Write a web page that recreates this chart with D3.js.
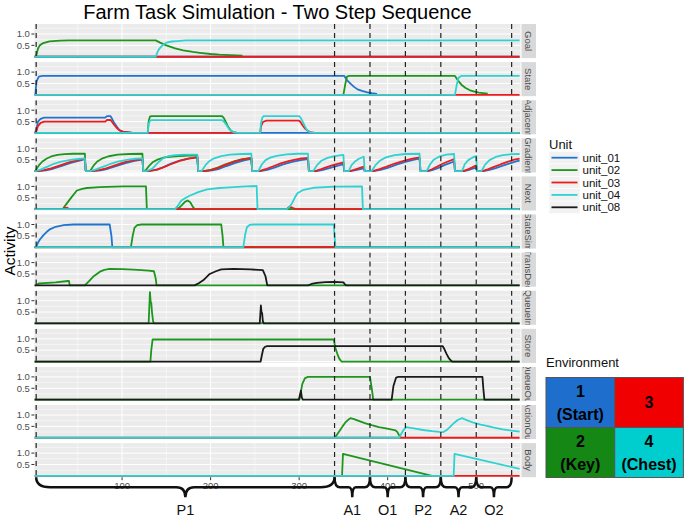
<!DOCTYPE html>
<html>
<head>
<meta charset="UTF-8">
<script src="https://d3js.org/d3.v7.min.js"></script>
<style>
  body { margin: 0; background: #fff; }
  svg text { font-family: "Liberation Sans", Arial, sans-serif; }
</style>
</head>
<body>
<svg id="chart" width="685" height="519"></svg>
<script>
// ---- data ----
const units = ["unit_01", "unit_02", "unit_03", "unit_04", "unit_08"];
const unitColors = ["#1f74cf", "#1c961c", "#ee1b1b", "#2ed2d2", "#1a1a1a"];
const panelNames = ["Goal", "State", "Adjacent", "Gradient", "Next", "StateSim",
                    "TransDec", "QueueIn", "Store", "QueueOut", "ActionOut", "Body"];
const eventTimes = [3, 340, 380, 420, 460, 500, 540];
const phaseLabels = ["P1", "A1", "O1", "P2", "A2", "O2"];
const xTicks = [100, 200, 300, 400, 500];
const xMinor = [50, 150, 250, 350, 450, 550];
const yTicks = [0.5, 1.0];
const yMinor = [0.25, 0.75, 1.25];
const envCells = [["1", "(Start)"], ["3"], ["2", "(Key)"], ["4", "(Chest)"]];
const envColors = ["#1e6ecd", "#f00000", "#148714", "#00cdcd"];

// each series: [time, activity] points
const goal = {
  unit_01: [[1,0],[549,0]],
  unit_02: [[1,0],[3,0.02],[5,0.35],[7,0.5],[11,0.6],[18,0.68],[30,0.71],[40,0.72],[138,0.72],[143,0.62],[150,0.5],
            [160,0.37],[169,0.28],[180,0.21],[188,0.17],[200,0.12],[210,0.09],[222,0.07],[236,0.05]],
  unit_03: [[1,0],[549,0]],
  unit_04: [[1,0],[138,0],[140,0.2],[142,0.35],[146,0.52],[150,0.62],[156,0.67],[162,0.69],[172,0.72],[549,0.72]]
};
const state = {
  unit_01: [[1,0],[2,0.05],[3.5,0.6],[6,0.8],[10,0.83],[351,0.83],[354,0.65],[358,0.49],[362,0.35],[366,0.24],
            [371,0.17],[376,0.12],[382,0.07],[388,0.04]],
  unit_02: [[350,0],[352,0.45],[354,0.8],[356,0.83],[476,0.83],[480,0.6],[484,0.42],[488,0.3],[493,0.2],[498,0.14],
            [503,0.1],[513,0.05]],
  unit_03: [[1,0],[549,0]],
  unit_04: [[1,0],[476,0],[478,0.45],[480,0.75],[483,0.83],[549,0.83]]
};
const adjacent = {
  unit_01: [[1,0],[3,0.1],[5,0.5],[8,0.62],[12,0.67],[81,0.67],[83,0.74],[87,0.74],[89,0.6],[91,0.45],[94,0.28],
            [97,0.13],[101,0.06],[107,0.03],[112,0],[549,0]],
  unit_02: [[1,0],[129,0],[130,0.5],[131.5,0.72],[133,0.74],[213,0.74],[215,0.65],[217,0.5],[219,0.33],[221,0.2],
            [223,0.1],[226,0.03],[230,0]],
  unit_03: [[1,0],[3,0.05],[5,0.3],[8,0.44],[12,0.5],[81,0.5],[83,0.57],[87,0.57],[89,0.47],[91,0.36],[94,0.22],
            [97,0.11],[101,0.05],[107,0.02],[112,0],[256,0],[257,0.3],[259,0.48],[263,0.54],[300,0.54],[302,0.45],
            [304,0.33],[307,0.18],[310,0.08],[314,0.02],[318,0],[549,0]],
  unit_04: [[1,0],[129,0],[130,0.4],[131.5,0.53],[133,0.56],[213,0.56],[215,0.5],[217,0.4],[219,0.28],[221,0.17],
            [223,0.09],[226,0.03],[230,0],[256,0],[257,0.45],[258.5,0.68],[260,0.74],[300,0.74],[302,0.65],
            [304,0.5],[306,0.33],[308,0.18],[310,0.08],[313,0.02],[316,0],[549,0]]
};
const gradient = {
  unit_01: [[1,0],[5,0],[14,0.03],[22,0.1],[32,0.23],[42,0.36],[52,0.46],[58,0.52],[59,0],
            [66,0],[76,0.03],[84,0.1],[94,0.23],[104,0.35],[114,0.45],[123,0.5],[124,0],
            [130,0],[140,0.06],[148,0.2],[156,0.34],[166,0.47],[176,0.56],[185,0.6],[186,0],
            [194,0],[202,0.03],[210,0.1],[218,0.22],[228,0.36],[238,0.47],[246,0.53],[247,0],
            [256,0],[264,0.05],[272,0.15],[282,0.29],[292,0.4],[302,0.48],[310,0.52],[311,0],
            [320,0],[327,0.05],[334,0.13],[342,0.22],[350,0.3],[351,0],
            [358,0],[364,0.04],[369,0.08],[373,0.12],[374,0],
            [384,0],[392,0.05],[400,0.14],[410,0.28],[420,0.4],[430,0.5],[436,0.55],[437,0],
            [446,0],[452,0.06],[458,0.15],[464,0.26],[470,0.35],[475,0.42],[476,0],
            [486,0],[491,0.04],[496,0.1],[500,0.15],[501,0],
            [508,0],[515,0.05],[522,0.13],[530,0.24],[538,0.34],[545,0.42],[549,0.46]],
  unit_02: [[1,0],[2,0],[6,0.25],[10,0.42],[15,0.55],[20,0.64],[27,0.71],[35,0.74],[45,0.76],[58,0.77],[59,0],
            [64,0],[68,0.25],[72,0.42],[78,0.56],[85,0.65],[95,0.72],[108,0.75],[123,0.76],[124,0],
            [126,0],[130,0.2],[135,0.4],[140,0.5],[148,0.6],[160,0.65],[175,0.68],[185,0.68],[186,0],
            [192,0],[200,0.05],[208,0.15],[216,0.28],[226,0.42],[236,0.52],[246,0.57],[247,0]],
  unit_03: [[1,0],[4,0],[12,0.04],[20,0.12],[30,0.25],[40,0.38],[50,0.48],[58,0.54],[59,0],
            [65,0],[74,0.04],[82,0.12],[92,0.25],[102,0.38],[112,0.47],[123,0.53],[124,0],
            [129,0],[138,0.05],[146,0.15],[155,0.3],[165,0.45],[175,0.55],[185,0.6],[186,0],
            [192,0],[200,0.04],[208,0.13],[216,0.26],[226,0.4],[236,0.51],[246,0.58],[247,0],
            [255,0],[262,0.08],[270,0.2],[280,0.35],[290,0.46],[300,0.54],[310,0.58],[311,0],
            [318,0],[325,0.08],[332,0.18],[340,0.28],[350,0.38],[351,0],
            [357,0],[362,0.05],[367,0.12],[373,0.2],[374,0],
            [383,0],[390,0.07],[398,0.18],[408,0.33],[418,0.45],[428,0.55],[436,0.6],[437,0],
            [445,0],[450,0.08],[456,0.2],[462,0.32],[468,0.42],[475,0.52],[476,0],
            [485,0],[490,0.06],[495,0.15],[500,0.25],[501,0],
            [507,0],[513,0.07],[520,0.18],[528,0.3],[536,0.41],[543,0.5],[549,0.55]],
  unit_04: [[1,0],[2,0],[8,0.06],[15,0.18],[22,0.3],[30,0.4],[40,0.48],[50,0.53],[58,0.56],[59,0],
            [64,0],[70,0.06],[78,0.18],[86,0.3],[95,0.41],[105,0.49],[115,0.54],[123,0.56],[124,0],
            [128,0],[134,0.1],[140,0.35],[146,0.55],[152,0.65],[160,0.7],[170,0.72],[185,0.72],[186,0],
            [190,0],[194,0.25],[198,0.42],[204,0.56],[212,0.66],[222,0.72],[235,0.75],[246,0.76],[247,0],
            [254,0],[258,0.3],[262,0.48],[268,0.6],[276,0.68],[286,0.73],[298,0.76],[310,0.76],[311,0],
            [316,0],[320,0.25],[325,0.45],[332,0.58],[340,0.66],[350,0.71],[351,0],
            [356,0],[359,0.25],[363,0.42],[368,0.55],[373,0.63],[374,0],
            [382,0],[386,0.25],[391,0.45],[398,0.6],[408,0.7],[420,0.75],[436,0.76],[437,0],
            [444,0],[448,0.3],[452,0.5],[458,0.63],[466,0.72],[475,0.75],[476,0],
            [484,0],[487,0.3],[491,0.48],[496,0.6],[500,0.66],[501,0],
            [506,0],[510,0.28],[515,0.48],[522,0.62],[530,0.7],[540,0.74],[549,0.75]]
};
const next = {
  unit_01: [[1,0],[33,0],[35,0.04],[38,0.05],[40,0],[160,0],[162,0.04],[165,0.03],[167,0],[549,0]],
  unit_02: [[1,0],[33,0],[37,0.22],[43,0.53],[49,0.82],[55,0.89],[60,0.93],[75,0.97],[101,1.0],[127,1.0],[128,0],
            [163,0],[167,0.15],[171,0.32],[174,0.38],[177,0.3],[180,0.1],[182,0],[549,0]],
  unit_03: [[1,0],[33,0],[35,0.05],[38,0.06],[40,0],[286,0],[288,0.08],[290,0.1],[293,0.05],[296,0],[549,0]],
  unit_04: [[1,0],[160,0],[164,0.2],[167,0.38],[172,0.5],[177,0.6],[186,0.75],[196,0.87],[210,0.93],[226,0.97],
            [240,1.0],[252,1.02],[253,0],[286,0],[289,0.1],[292,0.26],[295,0.5],[298,0.7],[305,0.85],[316,0.94],
            [340,0.99],[371,1.0],[372,0],[549,0]]
};
const stateSim = {
  unit_01: [[1,0],[3,0],[5,0.2],[7,0.33],[11,0.52],[15,0.68],[19,0.8],[25,0.9],[34,0.97],[45,1.0],[86,1.0],[88,0.5],[89,0],[549,0]],
  unit_02: [[1,0],[110,0],[112,0.5],[114,0.85],[117,0.97],[122,1.0],[212,1.0],[213.5,0.5],[214.5,0],[549,0]],
  unit_03: [[1,0],[549,0]],
  unit_04: [[1,0],[237,0],[239,0.55],[241,0.88],[244,0.98],[248,1.0],[339,1.0],[340,0.5],[341,0],[549,0]]
};
const transDec = {
  unit_02: [[1,0],[3,0],[6,0.08],[12,0.1],[25,0.13],[39,0.19],[40,0.19],[41,0],
            [58,0],[63,0.2],[68,0.4],[75,0.6],[80,0.68],[86,0.72],[100,0.71],[113,0.69],[130,0.65],[136,0.62],[138,0.3],[139,0],[549,0]],
  unit_08: [[1,0],[182,0],[187,0.1],[192,0.23],[199,0.5],[206,0.62],[212,0.7],[226,0.72],[245,0.7],[259,0.67],[262,0.4],[264,0],
            [310,0],[314,0.06],[320,0.11],[330,0.14],[340,0.15],[350,0.13],[351,0.08],[353,0],[549,0]]
};
const queueIn = {
  unit_02: [[1,0],[130,0],[131.5,1.38],[132.3,0.95],[133,0.9],[133.8,0.5],[135,0.1],[136,0],[258,0],[259,0.08],[260,0],[549,0]],
  unit_08: [[1,0],[255.5,0],[256.8,0.79],[257.5,0.5],[258.2,0.45],[259,0.1],[260,0],[549,0]]
};
const store = {
  unit_02: [[1,0],[132,0],[133,0.5],[134.5,0.97],[339,0.97],[341,0.6],[343,0.35],[345,0.15],[347,0.04],[348,0],[549,0]],
  unit_08: [[1,0],[256.5,0],[258,0.3],[259.5,0.56],[261.5,0.65],[264,0.68],[462,0.68],[464,0.55],[466.5,0.34],[469,0.15],
            [472,0.02],[473,0],[549,0]]
};
const queueOut = {
  unit_02: [[1,0],[300.5,0],[302,0.35],[303.6,0.69],[306.6,0.95],[310,1.0],[380,1.0],[382,0.5],[383.7,0],[549,0]],
  unit_08: [[1,0],[299.5,0],[301,0.2],[302,0.4],[303,0.1],[304,0],[404.5,0],[406.5,0.6],[409.5,0.97],[412,1.0],[507,1.0],
            [508,0.5],[509.2,0],[549,0]]
};
const actionOut = {
  unit_02: [[340,0],[343,0.15],[346,0.32],[349,0.5],[352,0.66],[355,0.78],[358,0.86],[362,0.82],[368,0.73],[375,0.63],
            [382,0.55],[390,0.47],[398,0.41],[405,0.36],[409,0.32],[411,0.25],[413,0.1],[415,0]],
  unit_03: [[1,0],[549,0]],
  unit_04: [[1,0],[413,0],[415,0.15],[418,0.35],[421,0.47],[426,0.43],[433,0.39],[440,0.34],[450,0.29],[458,0.26],
            [463,0.25],[467,0.35],[471,0.5],[475,0.65],[479,0.78],[484,0.86],[490,0.76],[497,0.66],[505,0.58],
            [512,0.52],[520,0.44],[530,0.37],[540,0.31],[549,0.27]]
};
const body = {
  unit_02: [[348.5,0],[349.5,0.97],[450,0]],
  unit_03: [[1,0],[549,0]],
  unit_04: [[1,0],[474.5,0],[475.5,0.97],[549,0.31]]
};
const panelSeries = [goal, state, adjacent, gradient, next, stateSim, transDec, queueIn, store, queueOut, actionOut, body];

// ---- layout ----
const svg = d3.select("#chart");
const panelLeft = 34.4, panelRight = 520.5;
const panelTop = 24, panelH = 34.1, panelGap = 4;
const stripX = 521.5, stripW = 14.5;
const gray30 = "#4d4d4d";

const x = d3.scaleLinear().domain([1, 550]).range([panelLeft, panelRight]);
const color = d3.scaleOrdinal().domain(units).range(unitColors);

const defs = svg.append("defs");

// title
svg.append("text")
  .attr("x", (panelLeft + panelRight) / 2).attr("y", 18.5)
  .attr("text-anchor", "middle")
  .style("font-size", "20px").style("fill", "#000")
  .text("Farm Task Simulation - Two Step Sequence");

// y axis title
svg.append("text")
  .attr("transform", `translate(15, 251) rotate(-90)`)
  .attr("text-anchor", "middle")
  .style("font-size", "15.5px").style("fill", "#000")
  .text("Activity");

panelNames.forEach((name, i) => {
  const top = panelTop + i * (panelH + panelGap);
  const bottom = top + panelH;
  const y = d3.scaleLinear().domain([-0.06, 1.44]).range([bottom, top]);
  const g = svg.append("g").attr("class", "panel");

  g.append("rect")
    .attr("x", panelLeft).attr("y", top)
    .attr("width", panelRight - panelLeft).attr("height", panelH)
    .attr("fill", "#ebebeb");

  // grid
  g.selectAll(".ymin").data(yMinor).join("line")
    .attr("x1", panelLeft).attr("x2", panelRight)
    .attr("y1", d => y(d)).attr("y2", d => y(d))
    .attr("stroke", "#fff").attr("stroke-width", 0.5);
  g.selectAll(".xmin").data(xMinor.filter(d => x(d) < panelRight)).join("line")
    .attr("x1", d => x(d)).attr("x2", d => x(d))
    .attr("y1", top).attr("y2", bottom)
    .attr("stroke", "#fff").attr("stroke-width", 0.5);
  g.selectAll(".ymaj").data([0].concat(yTicks)).join("line")
    .attr("x1", panelLeft).attr("x2", panelRight)
    .attr("y1", d => y(d)).attr("y2", d => y(d))
    .attr("stroke", "#fff").attr("stroke-width", 1);
  g.selectAll(".xmaj").data(xTicks).join("line")
    .attr("x1", d => x(d)).attr("x2", d => x(d))
    .attr("y1", top).attr("y2", bottom)
    .attr("stroke", "#fff").attr("stroke-width", 1);

  // clip for lines
  const clipId = "clip" + i;
  defs.append("clipPath").attr("id", clipId)
    .append("rect")
    .attr("x", panelLeft).attr("y", top)
    .attr("width", panelRight - panelLeft).attr("height", panelH);

  const line = d3.line().x(d => x(d[0])).y(d => y(d[1]));
  const series = panelSeries[i];
  const lg = g.append("g").attr("clip-path", `url(#${clipId})`);
  units.forEach(u => {
    if (!series[u]) return;
    lg.append("path")
      .datum(series[u])
      .attr("d", line)
      .attr("fill", "none")
      .attr("stroke", color(u))
      .attr("stroke-width", 1.8)
      .attr("stroke-linejoin", "round");
  });

  // event markers
  lg.selectAll(".ev").data(eventTimes).join("line")
    .attr("x1", d => x(d)).attr("x2", d => x(d))
    .attr("y1", top).attr("y2", bottom)
    .attr("stroke", "#222").attr("stroke-width", 1.2)
    .attr("stroke-dasharray", "5,4");

  // y axis
  g.selectAll(".ytick").data(yTicks).join("line")
    .attr("x1", panelLeft - 3).attr("x2", panelLeft)
    .attr("y1", d => y(d)).attr("y2", d => y(d))
    .attr("stroke", "#333").attr("stroke-width", 1);
  g.selectAll(".ylab").data(yTicks).join("text")
    .attr("x", panelLeft - 4.5).attr("y", d => y(d))
    .attr("text-anchor", "end").attr("dy", "0.35em")
    .style("font-size", "9.5px").style("fill", gray30)
    .text(d => d3.format(".1f")(d));

  // strip
  const sClip = "sclip" + i;
  defs.append("clipPath").attr("id", sClip)
    .append("rect").attr("x", stripX).attr("y", top)
    .attr("width", stripW).attr("height", panelH);
  g.append("rect")
    .attr("x", stripX).attr("y", top)
    .attr("width", stripW).attr("height", panelH)
    .attr("fill", "#d9d9d9");
  g.append("g").attr("clip-path", `url(#${sClip})`)
    .append("text")
    .attr("transform", `translate(${stripX + stripW / 2}, ${top + panelH / 2}) rotate(90)`)
    .attr("text-anchor", "middle").attr("dy", "0.35em")
    .style("font-size", "9.5px").style("fill", gray30)
    .text(name);
});

// x axis
const axisY = panelTop + panelNames.length * (panelH + panelGap) - panelGap;
svg.selectAll(".xtick").data(xTicks).join("line")
  .attr("x1", d => x(d)).attr("x2", d => x(d))
  .attr("y1", axisY).attr("y2", axisY + 3)
  .attr("stroke", "#333");
svg.selectAll(".xlab").data(xTicks).join("text")
  .attr("x", d => x(d)).attr("y", axisY + 8.5)
  .attr("text-anchor", "middle").attr("dy", "0.35em")
  .style("font-size", "9.5px").style("fill", gray30)
  .text(d => d);

// braces under the phases
function bracePath(x0, x1, y0, y1, y2) {
  const w = x1 - x0, xm = (x0 + x1) / 2;
  const re = Math.min(14, w * 0.15), rm = Math.min(9, w * 0.1);
  return `M${x0},${y0} Q${x0},${y1} ${x0 + re},${y1} L${xm - rm},${y1} Q${xm},${y1} ${xm},${y2}` +
         ` Q${xm},${y1} ${xm + rm},${y1} L${x1 - re},${y1} Q${x1},${y1} ${x1},${y0}`;
}
const phases = phaseLabels.map((p, i) => ({ label: p, t0: eventTimes[i], t1: eventTimes[i + 1] }));
svg.selectAll(".brace").data(phases).join("path")
  .attr("d", d => bracePath(x(d.t0), x(d.t1), axisY, axisY + 10, axisY + 20))
  .attr("fill", "none").attr("stroke", "#111").attr("stroke-width", 2.5);
svg.selectAll(".phase").data(phases).join("text")
  .attr("x", d => (x(d.t0) + x(d.t1)) / 2).attr("y", axisY + 38)
  .attr("text-anchor", "middle")
  .style("font-size", "14.5px").style("fill", "#111")
  .text(d => d.label);

// unit legend
const leg = svg.append("g");
leg.append("text").attr("x", 549).attr("y", 148.5)
  .style("font-size", "13px").style("fill", "#111").text("Unit");
const rowH = 12.4;
units.forEach((u, i) => {
  const ry = 151.5 + i * rowH;
  leg.append("rect").attr("x", 549).attr("y", ry)
    .attr("width", 31).attr("height", rowH)
    .attr("fill", "#f2f2f2").attr("stroke", "#fff").attr("stroke-width", 0.6);
  leg.append("line").attr("x1", 551.5).attr("x2", 577.5)
    .attr("y1", ry + rowH / 2).attr("y2", ry + rowH / 2)
    .attr("stroke", color(u)).attr("stroke-width", 1.8);
  leg.append("text").attr("x", 582.5).attr("y", ry + rowH / 2)
    .attr("dy", "0.35em")
    .style("font-size", "11.5px").style("fill", "#111").text(u);
});

// environment map
const env = svg.append("g");
env.append("text").attr("x", 546).attr("y", 366.5)
  .style("font-size", "13px").style("fill", "#111").text("Environment");
const ex0 = 546, ey0 = 377.5, cw = 68.7, ch = 50;
envCells.forEach((lines, i) => {
  const cx = ex0 + (i % 2) * cw, cy = ey0 + Math.floor(i / 2) * ch;
  env.append("rect").attr("x", cx).attr("y", cy).attr("width", cw).attr("height", ch)
    .attr("fill", envColors[i]).attr("stroke", "#555").attr("stroke-width", 1);
  const t = env.append("text")
    .attr("text-anchor", "middle")
    .style("font-size", "16px").style("font-weight", "bold").style("fill", "#000");
  if (lines.length === 1) {
    t.attr("x", cx + cw / 2).attr("y", cy + ch / 2).attr("dy", "0.35em").text(lines[0]);
  } else {
    lines.forEach((s, k) => {
      t.append("tspan").attr("x", cx + cw / 2)
        .attr("y", cy + ch / 2 + (k === 0 ? -11 : 12)).attr("dy", "0.35em").text(s);
    });
  }
});
</script>
</body>
</html>
